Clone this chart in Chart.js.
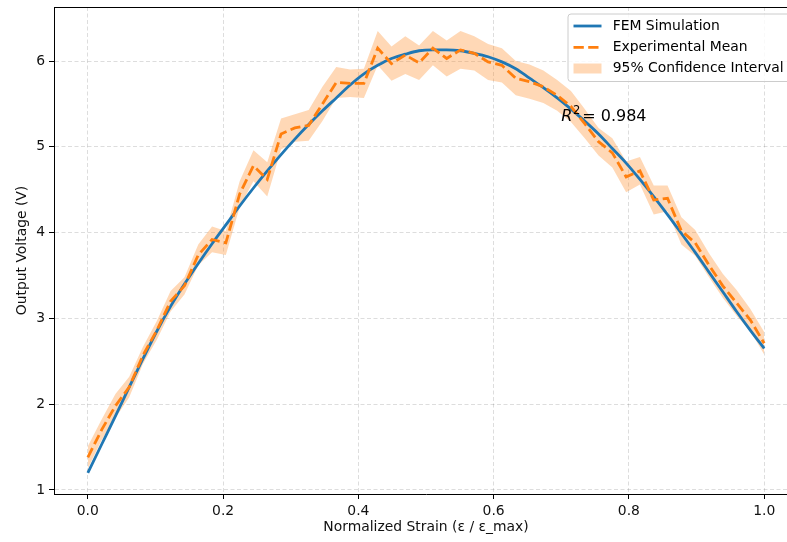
<!DOCTYPE html>
<html><head><meta charset="utf-8">
<script src="https://cdn.jsdelivr.net/npm/chart.js@4/dist/chart.umd.min.js"></script>
<style>
html,body{margin:0;padding:0;background:#fff;overflow:hidden;width:787px;height:542px}
#wrap{position:absolute;left:0;top:0;width:800px;height:542px}
</style>
</head><body>
<div id="wrap"><canvas id="c" width="800" height="542"></canvas></div>
<script>
// ---- data ----
const strain = [0,0.0204,0.0408,0.0612,0.0816,0.102,0.1224,0.1429,0.1633,0.1837,0.2041,0.2245,0.2449,0.2653,0.2857,0.3061,0.3265,0.3469,0.3673,0.3878,0.4082,0.4286,0.449,0.4694,0.4898,0.5102,0.5306,0.551,0.5714,0.5918,0.6122,0.6327,0.6531,0.6735,0.6939,0.7143,0.7347,0.7551,0.7755,0.7959,0.8163,0.8367,0.8571,0.8776,0.898,0.9184,0.9388,0.9592,0.9796,1];
const femVoltage = [1.2,1.53,1.86,2.2,2.53,2.85,3.14,3.4,3.64,3.87,4.09,4.31,4.52,4.72,4.91,5.09,5.26,5.42,5.57,5.72,5.85,5.95,6.03,6.08,6.12,6.13,6.13,6.12,6.09,6.05,5.99,5.91,5.8,5.69,5.57,5.44,5.3,5.15,4.98,4.81,4.62,4.42,4.21,3.99,3.77,3.54,3.31,3.08,2.86,2.65];
const expMean = [1.38,1.70,1.98,2.20,2.57,2.86,3.20,3.38,3.74,3.92,3.88,4.45,4.78,4.62,5.15,5.22,5.25,5.50,5.75,5.74,5.74,6.15,5.97,6.07,5.98,6.15,6.03,6.13,6.09,5.99,5.95,5.80,5.76,5.70,5.60,5.47,5.27,5.06,4.93,4.65,4.72,4.38,4.40,4.02,3.88,3.62,3.38,3.18,2.98,2.71];
const ciHalf = [0.13,0.12,0.14,0.12,0.10,0.11,0.12,0.10,0.12,0.15,0.14,0.15,0.18,0.20,0.18,0.16,0.18,0.20,0.18,0.16,0.17,0.20,0.20,0.22,0.20,0.20,0.21,0.22,0.20,0.21,0.20,0.20,0.20,0.19,0.18,0.18,0.17,0.16,0.17,0.18,0.16,0.17,0.15,0.16,0.15,0.14,0.14,0.15,0.13,0.13];
const xTicks = [0.0,0.2,0.4,0.6,0.8,1.0];
const yTicks = [1,2,3,4,5,6];
const seriesNames = ['FEM Simulation','Experimental Mean','95% Confidence Interval'];
const r2Label = {x:0.7, y:5.3, text:'0.984'};
const xTitle = 'Normalized Strain (ε / ε_max)';
const yTitle = 'Output Voltage (V)';

// ---- styling ----
const BLUE = '#1f77b4', ORANGE = '#ff7f0e', BAND = 'rgba(255,127,14,0.3)';
const FONT = '"DejaVu Sans", sans-serif';
const GRID = 'rgba(0,0,0,0.17)';
Chart.defaults.font.family = FONT;
Chart.defaults.font.size = 13.9;
Chart.defaults.color = '#111';

const pts = ys => strain.map((s,i)=>({x:s, y:ys[i]}));
const lower = expMean.map((m,i)=>m-ciHalf[i]);
const upper = expMean.map((m,i)=>m+ciHalf[i]);

const overlay = {
  id:'overlay',
  afterDraw(chart){
    const {ctx, chartArea:a, scales:{x,y}} = chart;
    ctx.save();
    // top spine
    ctx.strokeStyle='#000'; ctx.lineWidth=1;
    ctx.beginPath(); ctx.moveTo(a.left, a.top+0.5); ctx.lineTo(a.right, a.top+0.5); ctx.stroke();
    // R^2 annotation
    const px = x.getPixelForValue(r2Label.x), py = y.getPixelForValue(r2Label.y);
    ctx.fillStyle='#000'; ctx.textAlign='left'; ctx.textBaseline='alphabetic';
    ctx.font='italic 16px '+FONT;
    ctx.fillText('R', px, py);
    const wR = ctx.measureText('R').width;
    ctx.font='11.5px '+FONT;
    ctx.fillText('2', px+wR+0.5, py-7);
    const w2 = ctx.measureText('2').width;
    ctx.font='16px '+FONT;
    ctx.fillText('= '+r2Label.text, px+wR+w2+2.5, py);
    // legend
    const lx=568, ly=14, lw=223, lh=67.5, r=3;
    ctx.beginPath();
    ctx.moveTo(lx+r,ly); ctx.lineTo(lx+lw-r,ly); ctx.arcTo(lx+lw,ly,lx+lw,ly+r,r);
    ctx.lineTo(lx+lw,ly+lh-r); ctx.arcTo(lx+lw,ly+lh,lx+lw-r,ly+lh,r);
    ctx.lineTo(lx+r,ly+lh); ctx.arcTo(lx,ly+lh,lx,ly+lh-r,r);
    ctx.lineTo(lx,ly+r); ctx.arcTo(lx,ly,lx+r,ly,r); ctx.closePath();
    ctx.fillStyle='rgba(255,255,255,0.8)'; ctx.fill();
    ctx.strokeStyle='#cccccc'; ctx.lineWidth=1; ctx.stroke();
    const rows=[26,47.3,68.5], hx0=573.5, hx1=601.5, tx=612.7;
    ctx.lineCap='butt';
    ctx.strokeStyle=BLUE; ctx.lineWidth=2.8; ctx.setLineDash([]);
    ctx.beginPath(); ctx.moveTo(hx0,rows[0]); ctx.lineTo(hx1,rows[0]); ctx.stroke();
    ctx.strokeStyle=ORANGE; ctx.setLineDash([10.3,4.4]);
    ctx.beginPath(); ctx.moveTo(hx0,rows[1]); ctx.lineTo(hx1,rows[1]); ctx.stroke();
    ctx.setLineDash([]);
    ctx.fillStyle=BAND; ctx.fillRect(hx0, rows[2]-5, hx1-hx0, 10);
    ctx.fillStyle='#000'; ctx.font='13.9px '+FONT; ctx.textBaseline='middle';
    seriesNames.forEach((n,i)=>ctx.fillText(n, tx, rows[i]));
    ctx.restore();
  }
};

new Chart(document.getElementById('c'), {
  type:'line',
  data:{datasets:[
    {label:seriesNames[1], data:pts(expMean), borderColor:ORANGE, borderWidth:2.8, borderDash:[10.3,4.4], pointRadius:0, tension:0, fill:false, order:0},
    {label:seriesNames[0], data:pts(femVoltage), borderColor:BLUE, borderWidth:2.8, pointRadius:0, cubicInterpolationMode:'monotone', fill:false, order:1},
    {label:'lower', data:pts(lower), borderWidth:0, borderColor:'rgba(0,0,0,0)', pointRadius:0, tension:0, fill:false, order:3},
    {label:seriesNames[2], data:pts(upper), borderWidth:0, borderColor:'rgba(0,0,0,0)', backgroundColor:BAND, pointRadius:0, tension:0, fill:2, order:2}
  ]},
  options:{
    responsive:false, animation:false,
    layout:{padding:{top:7,right:2,left:0,bottom:0}},
    plugins:{legend:{display:false}, tooltip:{enabled:false}},
    scales:{
      x:{type:'linear', min:-0.05, max:1.05,
        afterBuildTicks:s=>{s.ticks=xTicks.map(v=>({value:v}));},
        afterFit:s=>{s.height=48; s.paddingLeft=0; s.paddingRight=0;},
        ticks:{callback:v=>Number(v).toFixed(1), padding:4, maxRotation:0, color:'#111'},
        grid:{color:GRID, lineWidth:0.8, tickColor:'#000', tickLength:5, tickWidth:1, tickBorderDash:[]},
        border:{color:'#000', width:1, dash:[4,2.5]},
        title:{display:true, text:xTitle, padding:{top:0,bottom:6}, color:'#111'}
      },
      y:{type:'linear', min:0.953, max:6.63,
        afterBuildTicks:s=>{s.ticks=yTicks.map(v=>({value:v}));},
        afterFit:s=>{s.width=54; s.paddingTop=0; s.paddingBottom=0;},
        ticks:{callback:v=>String(v), padding:4, color:'#111'},
        grid:{color:GRID, lineWidth:0.8, tickColor:'#000', tickLength:5, tickWidth:1, tickBorderDash:[]},
        border:{color:'#000', width:1, dash:[4,2.5]},
        title:{display:true, text:yTitle, padding:{top:14,bottom:0}, color:'#111'}
      }
    }
  },
  plugins:[overlay]
});
</script>
</body></html>
